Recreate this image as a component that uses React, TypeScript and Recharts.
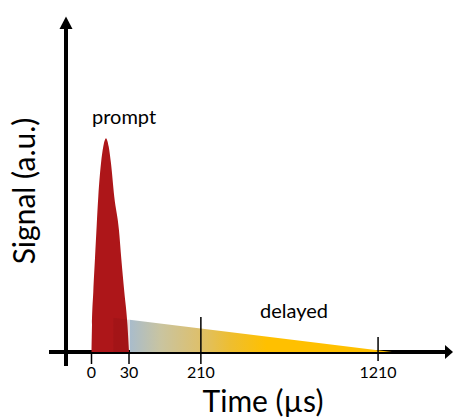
import * as R from "recharts";

const { ComposedChart, Area, XAxis, YAxis } = R;

// prompt peak (time in µs, signal in a.u.)
const PROMPT_T = [0, 0.012, 0.12, 0.4, 0.83, 1.34, 2.47, 3.66, 5.32, 7.26, 9.12, 12.1, 17.0, 19.7, 23.5, 27.8, 30];
const PROMPT_V = [0, 0.129, 0.288, 0.448, 0.607, 0.742, 0.901, 0.981, 1.021, 0.981, 0.901, 0.742, 0.583, 0.448, 0.288, 0.129, 0];

// delayed tail (straight wedge)
const DELAYED_T = [11.2, 1318];
const DELAYED_V = [0.164, 0];

const TIME_TICKS = [0, 30, 210, 1210];

const W = 453;
const H = 418;
const MARGIN = { top: 17, right: 51, bottom: 0, left: 66 };
const XAXIS_H = 66;
const FONT = "Lato, 'Open Sans', sans-serif";

// merge both series on one time column
const allT = Array.from(new Set([...PROMPT_T, ...DELAYED_T])).sort((a, b) => a - b);
const data = allT.map((t) => {
  const pi = PROMPT_T.indexOf(t);
  const di = DELAYED_T.indexOf(t);
  return {
    t,
    prompt: pi >= 0 ? PROMPT_V[pi] : undefined,
    delayed: di >= 0 ? DELAYED_V[di] : undefined,
  };
});

// power-law time axis (the schematic squeezes the long tail)
function powScale(exponent: number) {
  let dom = [0, 1];
  let rng = [0, 1];
  const f = (v: number) => Math.sign(v) * Math.pow(Math.abs(v), exponent);
  const fi = (v: number) => Math.sign(v) * Math.pow(Math.abs(v), 1 / exponent);
  const scale: any = (v: number) => {
    const a = f(dom[0]);
    const b = f(dom[1]);
    return rng[0] + ((f(v) - a) / (b - a)) * (rng[1] - rng[0]);
  };
  scale.domain = (d?: number[]) => {
    if (d === undefined) return dom.slice();
    dom = d.map(Number);
    return scale;
  };
  scale.range = (r?: number[]) => {
    if (r === undefined) return rng.slice();
    rng = r.map(Number);
    return scale;
  };
  scale.invert = (px: number) => {
    const a = f(dom[0]);
    const b = f(dom[1]);
    return fi(a + ((px - rng[0]) / (rng[1] - rng[0])) * (b - a));
  };
  scale.ticks = () => TIME_TICKS.slice();
  scale.tickFormat = () => (v: number) => String(v);
  scale.nice = () => scale;
  scale.clamp = () => scale;
  scale.copy = () => powScale(exponent).domain(dom).range(rng);
  return scale;
}

// tick marks: [length above axis, length below axis]
const TICK_MARKS: Record<number, [number, number]> = {
  0: [0, 12],
  30: [0, 12],
  210: [35, 12],
  1210: [15, 9],
};

function TimeTick({ x, y, payload }: any) {
  const [up, down] = TICK_MARKS[payload.value] ?? [0, 12];
  return (
    <g>
      <line x1={x} x2={x} y1={y - up} y2={y + down} stroke="#000" strokeWidth={1.5} />
      <text x={x} y={y + 26} textAnchor="middle" fontFamily={FONT} fontSize={16} fill="#000">
        {payload.value}
      </text>
    </g>
  );
}

function Frame() {
  const usePlot = (R as any).usePlotArea;
  const area = usePlot ? usePlot() : null;
  const left = area ? area.x : MARGIN.left;
  const top = area ? area.y : MARGIN.top;
  const bottom = area ? area.y + area.height : H - MARGIN.bottom - XAXIS_H;
  return (
    <g>
      <line x1={left - 17} x2={W - 6} y1={bottom} y2={bottom} stroke="#000" strokeWidth={4} />
      <polygon points={`${W - 8},${bottom - 7} ${W},${bottom} ${W - 8},${bottom + 7}`} fill="#000" />
      <line x1={left} x2={left} y1={bottom + 14} y2={top + 11} stroke="#000" strokeWidth={4} />
      <polygon points={`${left - 6.5},${top + 12} ${left},${top - 0.5} ${left + 6.5},${top + 12}`} fill="#000" />
      <text
        transform={`translate(35,191) rotate(-90)`}
        textAnchor="middle"
        fontFamily={FONT}
        fontSize={30}
        fill="#000"
      >
        Signal (a.u.)
      </text>
      <text x={263} y={412} textAnchor="middle" fontFamily={FONT} fontSize={30} fill="#000">
        Time (µs)
      </text>
      <text x={92} y={123.5} fontFamily={FONT} fontSize={20} fill="#000">
        prompt
      </text>
      <text x={260} y={318} fontFamily={FONT} fontSize={20} fill="#000">
        delayed
      </text>
    </g>
  );
}

export default function App() {
  return (
    <div style={{ position: "absolute", left: 0, top: 0, background: "#fff" }}>
      <ComposedChart width={W} height={H} data={data} margin={MARGIN}>
        <defs>
          <linearGradient id="delayedFill" x1="0" y1="0" x2="1" y2="0">
            <stop offset="0" stopColor="#5a0508" stopOpacity={0.12} />
            <stop offset="0.06" stopColor="#5a0508" stopOpacity={0.12} />
            <stop offset="0.06" stopColor="#A9BCCB" stopOpacity={1} />
            <stop offset="0.17" stopColor="#C9C4A0" stopOpacity={1} />
            <stop offset="0.3" stopColor="#DCC070" stopOpacity={1} />
            <stop offset="0.42" stopColor="#EEBE30" stopOpacity={1} />
            <stop offset="0.55" stopColor="#FFC000" stopOpacity={1} />
            <stop offset="1" stopColor="#FFC000" stopOpacity={1} />
          </linearGradient>
        </defs>
        <YAxis hide type="number" domain={[0, 1.6]} />
        <Area
          dataKey="prompt"
          type="monotone"
          stroke="none"
          fill="#AD1619"
          fillOpacity={1}
          connectNulls
          isAnimationActive={false}
          dot={false}
          activeDot={false}
        />
        <Area
          dataKey="delayed"
          type="linear"
          stroke="none"
          fill="url(#delayedFill)"
          fillOpacity={1}
          connectNulls
          isAnimationActive={false}
          dot={false}
          activeDot={false}
        />
        <XAxis
          dataKey="t"
          type="number"
          scale={powScale(0.55)}
          domain={[0, 1400]}
          ticks={TIME_TICKS}
          interval={0}
          height={XAXIS_H}
          padding={{ left: 25.5, right: 0 }}
          axisLine={false}
          tickLine={false}
          tickSize={0}
          tickMargin={0}
          tick={<TimeTick />}
        />
        <Frame />
      </ComposedChart>
    </div>
  );
}
